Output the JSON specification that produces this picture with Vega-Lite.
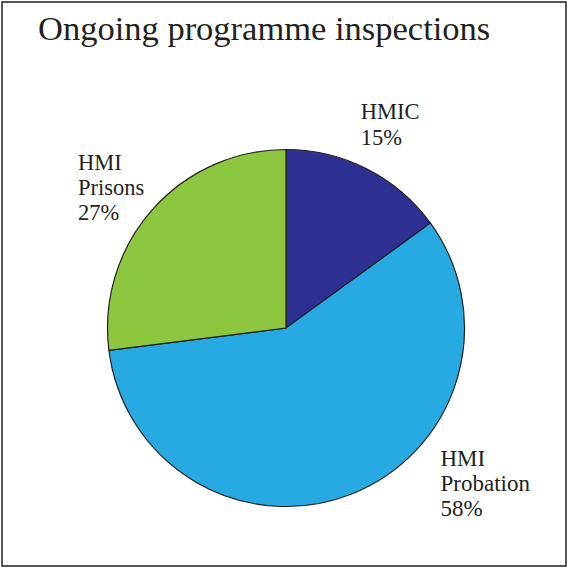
{
  "$schema": "https://vega.github.io/schema/vega-lite/v6.json",
  "autosize": "none",
  "width": 564,
  "height": 564,
  "padding": 2,
  "background": "white",
  "view": {"stroke": "#231F20", "strokeWidth": 1.5, "fill": "white"},
  "config": {
    "view": {"stroke": "#231F20", "strokeWidth": 1.5},
    "font": "Liberation Serif"
  },
  "title": {
    "text": "Ongoing programme inspections",
    "anchor": "start",
    "frame": "group",
    "offset": 0,
    "dx": 36,
    "dy": 72,
    "baseline": "alphabetic",
    "font": "Liberation Serif",
    "fontSize": 34.5,
    "fontWeight": "normal",
    "color": "#231F20"
  },
  "data": {
    "values": [
      {"name": "HMIC", "value": 15, "label": "HMIC|15%"},
      {"name": "HMI Probation", "value": 58, "label": "HMI|Probation|58%"},
      {"name": "HMI Prisons", "value": 27, "label": "HMI|Prisons|27%"}
    ]
  },
  "transform": [
    {"window": [{"op": "row_number", "as": "idx"}]},
    {"stack": "value", "groupby": [], "sort": [{"field": "idx", "order": "ascending"}], "as": ["v0", "v1"]},
    {"calculate": "(datum.v0 + datum.v1) / 2", "as": "mid"}
  ],
  "layer": [
    {
      "mark": {"type": "arc", "outerRadius": 178.5, "stroke": "#231F20", "strokeWidth": 1.2, "xOffset": 2, "yOffset": 44},
      "encoding": {
        "theta": {"field": "v0", "type": "quantitative", "stack": null, "scale": {"domain": [0, 100], "range": [0, 6.283185307]}},
        "theta2": {"field": "v1"},
        "color": {
          "field": "name",
          "type": "nominal",
          "scale": {"domain": ["HMIC", "HMI Probation", "HMI Prisons"], "range": ["#2E3192", "#27AAE1", "#8DC63F"]},
          "legend": null
        }
      }
    },
    {
      "transform": [{"filter": "datum.name === 'HMIC'"}],
      "mark": {"type": "text", "radius": 235, "dx": -32, "dy": 0, "xOffset": 2, "yOffset": 44, "align": "left", "baseline": "alphabetic", "lineBreak": "|", "lineHeight": 26, "fontSize": 22.5, "font": "Liberation Serif", "color": "#231F20"},
      "encoding": {
        "theta": {"field": "mid", "type": "quantitative", "stack": null, "scale": {"domain": [0, 100], "range": [0, 6.283185307]}},
        "text": {"field": "label"}
      }
    },
    {
      "transform": [{"filter": "datum.name === 'HMI Prisons'"}],
      "mark": {"type": "text", "radius": 240, "dx": -28, "dy": 1, "xOffset": 2, "yOffset": 44, "align": "left", "baseline": "alphabetic", "lineBreak": "|", "lineHeight": 25, "fontSize": 22.5, "font": "Liberation Serif", "color": "#231F20"},
      "encoding": {
        "theta": {"field": "mid", "type": "quantitative", "stack": null, "scale": {"domain": [0, 100], "range": [0, 6.283185307]}},
        "text": {"field": "label"}
      }
    },
    {
      "transform": [{"filter": "datum.name === 'HMI Probation'"}],
      "mark": {"type": "text", "radius": 148, "dx": 100, "dy": 0, "xOffset": 2, "yOffset": 44, "align": "left", "baseline": "alphabetic", "lineBreak": "|", "lineHeight": 25, "fontSize": 23, "font": "Liberation Serif", "color": "#231F20"},
      "encoding": {
        "theta": {"field": "mid", "type": "quantitative", "stack": null, "scale": {"domain": [0, 100], "range": [0, 6.283185307]}},
        "text": {"field": "label"}
      }
    }
  ]
}
